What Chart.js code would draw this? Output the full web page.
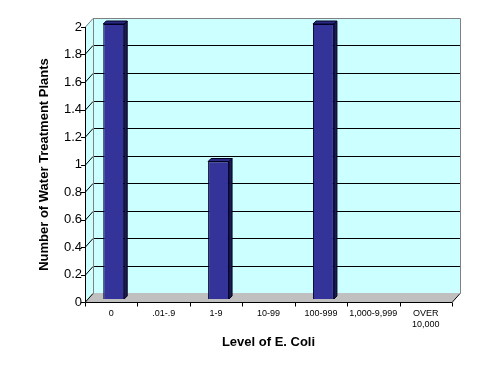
<!DOCTYPE html>
<html>
<head>
<meta charset="utf-8">
<script src="https://cdn.jsdelivr.net/npm/chart.js@4/dist/chart.umd.min.js"></script>
<style>
html,body{margin:0;padding:0;background:#fff;}
#wrap{width:491px;height:374px;position:relative;}
</style>
</head>
<body>
<div id="wrap"><canvas id="c" width="491" height="374"></canvas></div>
<script>
const categories = ["0", ".01-.9", "1-9", "10-99", "100-999", "1,000-9,999", ["OVER", "10,000"]];
const plantCounts = [2, 0, 1, 0, 2, 0, 0];
const yTicks = [0, 0.2, 0.4, 0.6, 0.8, 1, 1.2, 1.4, 1.6, 1.8, 2];

const DEPTH_X = 8, DEPTH_Y = -9;   // wall depth
const BAR_DX = 2.5, BAR_DY = -3;   // bar front-face offset
const BAR_D = 3;                   // bar depth

const wallPlugin = {
  id: 'wall3d',
  beforeDatasetsDraw(chart) {
    const ctx = chart.ctx;
    const y = chart.scales.y;
    const L = chart.chartArea.left, R = chart.chartArea.right;
    const T = y.getPixelForValue(2), B = y.getPixelForValue(0);
    ctx.save();
    ctx.fillStyle = '#CCFFFF';
    ctx.beginPath();
    ctx.moveTo(L, T); ctx.lineTo(L + DEPTH_X, T + DEPTH_Y);
    ctx.lineTo(L + DEPTH_X, B + DEPTH_Y); ctx.lineTo(L, B); ctx.closePath();
    ctx.fill();
    ctx.fillRect(L + DEPTH_X, T + DEPTH_Y, R - L, B - T);
    ctx.fillStyle = '#C0C0C0';
    ctx.beginPath();
    ctx.moveTo(L, B); ctx.lineTo(L + DEPTH_X, B + DEPTH_Y);
    ctx.lineTo(R + DEPTH_X, B + DEPTH_Y); ctx.lineTo(R, B); ctx.closePath();
    ctx.fill();
    ctx.lineWidth = 1;
    yTicks.forEach(v => {
      const py = Math.round(y.getPixelForValue(v)) + 0.5;
      ctx.strokeStyle = v === 2 ? '#808080' : '#000';
      ctx.beginPath();
      ctx.moveTo(L, py); ctx.lineTo(L + DEPTH_X, py + DEPTH_Y);
      if (v !== 0) ctx.lineTo(R + DEPTH_X, py + DEPTH_Y);
      ctx.stroke();
      ctx.strokeStyle = '#000';
      ctx.beginPath(); ctx.moveTo(L - 4, py); ctx.lineTo(L, py); ctx.stroke();
    });
    ctx.strokeStyle = '#808080';
    ctx.beginPath();
    const bx = Math.round(L + DEPTH_X) + 0.5, brx = Math.round(R + DEPTH_X) + 0.5;
    const bt = Math.round(T + DEPTH_Y) + 0.5, bb = Math.round(B + DEPTH_Y) + 0.5;
    ctx.moveTo(bx, bb); ctx.lineTo(bx, bt); ctx.lineTo(brx, bt); ctx.lineTo(brx, bb);
    ctx.stroke();
    ctx.strokeStyle = '#000';
    ctx.beginPath();
    ctx.moveTo(R, Math.round(B) + 0.5); ctx.lineTo(R + DEPTH_X, Math.round(B + DEPTH_Y) + 0.5);
    ctx.stroke();
    const lx = Math.round(L) + 0.5, by = Math.round(B) + 0.5;
    ctx.beginPath();
    ctx.moveTo(lx, Math.round(T)); ctx.lineTo(lx, by); ctx.lineTo(R, by);
    ctx.stroke();
    const n = categories.length;
    for (let i = 0; i <= n; i++) {
      const px = Math.round(L + (R - L) * i / n) + 0.5;
      ctx.beginPath(); ctx.moveTo(px, by); ctx.lineTo(px, by + 4); ctx.stroke();
    }
    ctx.restore();
    ctx.save();
    ctx.translate(BAR_DX, BAR_DY);
  },
  afterDatasetsDraw(chart) {
    const ctx = chart.ctx;
    const meta = chart.getDatasetMeta(0);
    meta.data.forEach((bar, i) => {
      if (!plantCounts[i]) return;
      const { x, y, base, width } = bar.getProps(['x', 'y', 'base', 'width'], true);
      const l = x - width / 2, r = x + width / 2;
      ctx.lineWidth = 1;
      ctx.strokeStyle = '#000022';
      ctx.fillStyle = '#1C1C55';
      ctx.beginPath();
      ctx.moveTo(r, y); ctx.lineTo(r + BAR_D, y - BAR_D);
      ctx.lineTo(r + BAR_D, base - BAR_D); ctx.lineTo(r, base); ctx.closePath();
      ctx.fill(); ctx.stroke();
      ctx.fillStyle = '#2A2A85';
      ctx.beginPath();
      ctx.moveTo(l, y); ctx.lineTo(l + BAR_D, y - BAR_D);
      ctx.lineTo(r + BAR_D, y - BAR_D); ctx.lineTo(r, y); ctx.closePath();
      ctx.fill(); ctx.stroke();
    });
    ctx.restore();
  }
};

new Chart(document.getElementById('c'), {
  type: 'bar',
  data: {
    labels: categories,
    datasets: [{
      data: plantCounts,
      backgroundColor: '#333399',
      borderColor: '#000022',
      borderWidth: 1,
      barPercentage: 0.4,
      categoryPercentage: 1.0
    }]
  },
  options: {
    responsive: false,
    animation: false,
    events: [],
    layout: { padding: { top: 27, right: 39, left: 0, bottom: 0 } },
    plugins: { legend: { display: false }, tooltip: { enabled: false } },
    scales: {
      x: {
        grid: { display: false, drawTicks: false },
        border: { display: false },
        ticks: {
          color: '#000', font: { family: 'Liberation Sans', size: 9 },
          padding: 6, maxRotation: 0, autoSkip: false
        },
        title: {
          display: true, text: 'Level of E. Coli', color: '#000',
          font: { family: 'Liberation Sans', size: 13, weight: 'bold' },
          padding: { top: 0, bottom: 24 }
        },
        afterFit(s) { s.height = 72; }
      },
      y: {
        min: 0, max: 2,
        grid: { display: false, drawTicks: false },
        border: { display: false },
        afterBuildTicks(s) { s.ticks = yTicks.map(v => ({ value: v })); },
        ticks: {
          color: '#000', font: { family: 'Liberation Sans', size: 13 },
          padding: 3,
          callback: v => String(v)
        },
        title: {
          display: true, text: 'Number of Water Treatment Plants', color: '#000',
          font: { family: 'Liberation Sans', size: 13, weight: 'bold' },
          padding: { top: 37, bottom: 0 }
        },
        afterFit(s) { s.width = 85; }
      }
    }
  },
  plugins: [wallPlugin]
});
</script>
</body>
</html>
